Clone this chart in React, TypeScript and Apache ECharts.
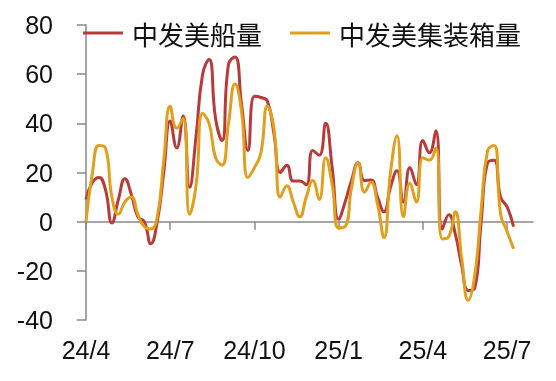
import React, { useEffect, useRef } from "react";
import * as echarts from "echarts";

const seriesNames = ["中发美船量", "中发美集装箱量"];
const startDate = "2024-04-05";
const weekCount = 70;
const yTicks = { min: -40, max: 80, interval: 20 };

const shipVolume = [
  9, 16, 18, 13, -0.5, 9, 17.5, 11, 2, 0,
  -9, 0, 20, 41, 30, 43, 14, 35, 60, 66,
  42, 33, 64, 67, 48, 29, 51, 50.5, 49, 36,
  20, 23, 16.5, 16.5, 15, 29, 27, 40, 22, 1,
  8, 17, 24, 16.7, 17, 10, 4, 14, 20.7, 8,
  22, 15, 33, 28, 37, -3, 2.8, -5, -18, -28,
  -27, 0, 24, 25, 10, 6, -2,
];
const containerVolume = [
  0, 20, 31, 30, 10, 3, 8, 10, 3, -2,
  -3, 2, 25, 47, 38, 42, 3, 15, 44, 40,
  26, 23, 40, 56, 45, 18, 22, 28, 47, 38,
  10, 14.6, 8, 2, 10, 16.7, 9, 26, 15, -2.5,
  -2, 14, 24, 12, 16, 7, -6.4, 20, 35, 2,
  15.6, 8, 26, 25, 30, -7, -6, 4, -15, -32,
  -22, 5, 29, 31, 3, -4, -11,
];

function buildWeeks(start: string, n: number): string[] {
  const out: string[] = [];
  const d0 = new Date(start + "T00:00:00Z").getTime();
  for (let i = 0; i < n; i++) {
    const d = new Date(d0 + i * 7 * 86400000);
    out.push(d.toISOString().slice(0, 10));
  }
  return out;
}

const colors = ["#B83B3B", "#E0A01E"];

export default function App() {
  const ref = useRef<HTMLDivElement>(null);
  useEffect(() => {
    if (!ref.current) return;
    const chart = echarts.init(ref.current, undefined, { renderer: "svg" });
    const weeks = buildWeeks(startDate, weekCount);
    const isQuarter = (idx: number) => idx % 13 === 0;
    const fmt = (v: string) => {
      const [y, m] = v.split("-");
      return `${y.slice(2)}/${parseInt(m, 10)}`;
    };
    chart.setOption({
      animation: false,
      color: colors,
      grid: {
        left: 86,
        right: 23,
        top: 25,
        bottom: 61,
        containLabel: false,
        outerBoundsMode: "none",
      },
      legend: {
        left: 83,
        top: 20,
        padding: 0,
        icon: "rect",
        itemWidth: 40,
        itemHeight: 3,
        itemGap: 28,
        textStyle: {
          fontFamily: "Noto Sans CJK SC",
          fontSize: 26,
          color: "#111",
          padding: [0, 0, 0, 4],
        },
        data: seriesNames,
      },
      xAxis: [
        {
          type: "category",
          data: weeks,
          boundaryGap: false,
          position: "bottom",
          axisLine: { onZero: true, lineStyle: { color: "#888", width: 1.5 } },
          axisTick: {
            show: true,
            interval: (idx: number) => isQuarter(idx),
            length: 8,
            lineStyle: { color: "#888", width: 1.5 },
          },
          axisLabel: { show: false },
          splitLine: { show: false },
        },
        {
          type: "category",
          data: weeks,
          boundaryGap: false,
          position: "bottom",
          axisLine: { show: false, onZero: false },
          axisTick: { show: false },
          axisLabel: {
            interval: (idx: number) => isQuarter(idx),
            margin: 17,
            fontFamily: "Liberation Sans",
            fontSize: 25,
            color: "#111",
            formatter: fmt,
          },
          splitLine: { show: false },
        },
      ],
      yAxis: {
        type: "value",
        min: yTicks.min,
        max: yTicks.max,
        interval: yTicks.interval,
        axisLine: { show: true, lineStyle: { color: "#888", width: 1.5 } },
        axisTick: { show: true, length: 9, lineStyle: { color: "#888", width: 1.5 } },
        axisLabel: {
          margin: 33,
          fontFamily: "Liberation Sans",
          fontSize: 25,
          color: "#111",
        },
        splitLine: { show: false },
      },
      series: [
        {
          name: seriesNames[0],
          type: "line",
          data: shipVolume,
          smooth: 0.5,
          showSymbol: false,
          lineStyle: { width: 3, color: colors[0] },
        },
        {
          name: seriesNames[1],
          type: "line",
          data: containerVolume,
          smooth: 0.5,
          showSymbol: false,
          lineStyle: { width: 3, color: colors[1] },
        },
      ],
    });
    return () => chart.dispose();
  }, []);
  return (
    <div
      ref={ref}
      style={{ position: "fixed", left: 0, top: 0, width: 556, height: 381 }}
    />
  );
}
